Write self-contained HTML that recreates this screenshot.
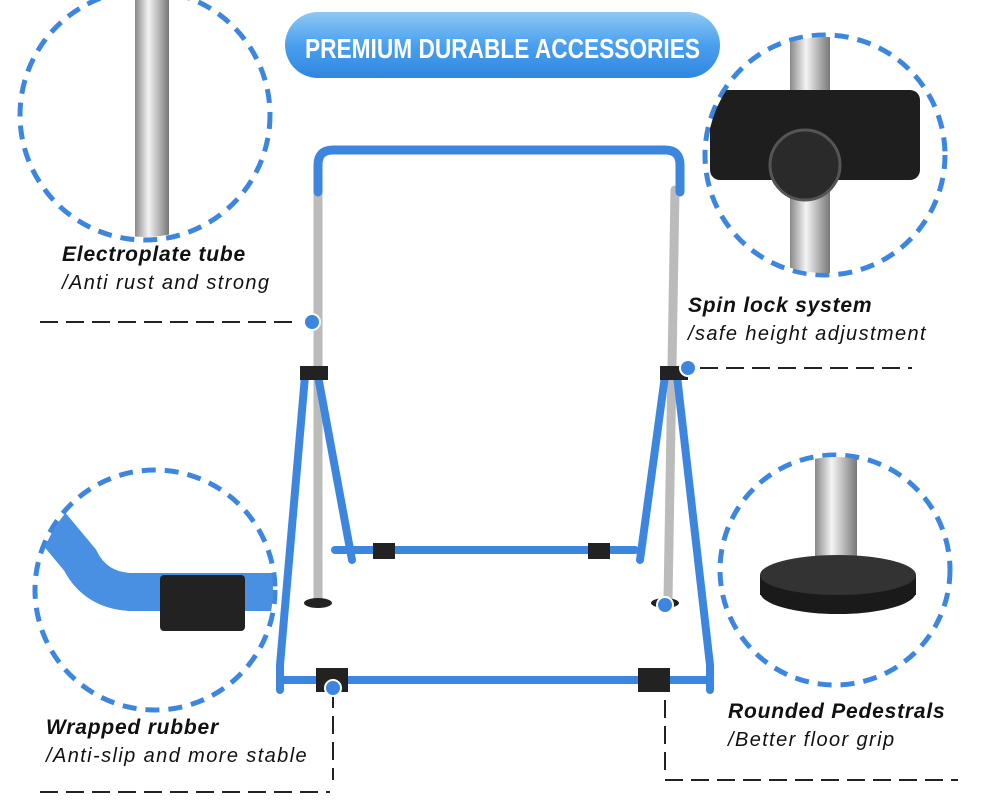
<!DOCTYPE html>
<html><head><meta charset="utf-8"><style>
body{margin:0;background:#fff;width:1000px;height:800px;overflow:hidden;font-family:"Liberation Sans",sans-serif}
.t{position:absolute;font-style:italic;color:#111;font-size:20px;letter-spacing:1.4px;white-space:nowrap}
.b{font-weight:bold;font-size:21px;letter-spacing:0.8px}
</style></head><body>
<svg width="1000" height="800" style="position:absolute;left:0;top:0">
<defs>
<linearGradient id="pill" x1="0" y1="0" x2="0" y2="1"><stop offset="0" stop-color="#8fc8f5"/><stop offset="0.5" stop-color="#4aa0ee"/><stop offset="1" stop-color="#2f86e0"/></linearGradient>
<linearGradient id="steel" x1="0" y1="0" x2="1" y2="0"><stop offset="0" stop-color="#888"/><stop offset="0.4" stop-color="#f4f4f4"/><stop offset="1" stop-color="#777"/></linearGradient>
<clipPath id="c1"><circle cx="145" cy="115" r="122"/></clipPath>
<clipPath id="c2"><circle cx="825" cy="155" r="118"/></clipPath>
<clipPath id="c3"><circle cx="155" cy="590" r="118"/></clipPath>
<clipPath id="c4"><circle cx="835" cy="570" r="113"/></clipPath>
</defs>
<rect x="285" y="12" width="435" height="66" rx="33" fill="url(#pill)"/>
<text x="305" y="58" textLength="395" lengthAdjust="spacingAndGlyphs" fill="#fff" font-weight="bold" font-size="28" font-family="Liberation Sans">PREMIUM DURABLE ACCESSORIES</text>
<g fill="none" stroke="#3d86e0" stroke-width="5" stroke-dasharray="14 9">
<circle cx="145" cy="115" r="125"/><circle cx="825" cy="155" r="120"/>
<circle cx="155" cy="590" r="120"/><circle cx="835" cy="570" r="115"/></g>
<rect x="135" y="0" width="34" height="240" fill="url(#steel)" clip-path="url(#c1)"/>
<g clip-path="url(#c2)"><rect x="790" y="30" width="40" height="250" fill="url(#steel)"/>
<rect x="710" y="90" width="210" height="90" rx="10" fill="#1e1e1e"/>
<circle cx="805" cy="165" r="35" fill="#2a2a2a" stroke="#555" stroke-width="3"/></g>
<g clip-path="url(#c3)"><path d="M30 500 L80 560 Q95 590 130 592 L290 592" stroke="#4a90e2" stroke-width="38" fill="none"/>
<rect x="160" y="575" width="85" height="56" rx="4" fill="#222"/></g>
<g clip-path="url(#c4)"><rect x="815" y="440" width="42" height="120" fill="url(#steel)"/>
<ellipse cx="838" cy="592" rx="78" ry="22" fill="#1a1a1a"/><rect x="760" y="575" width="156" height="20" fill="#1a1a1a"/><ellipse cx="838" cy="575" rx="78" ry="20" fill="#333"/></g>
<g stroke-linecap="round" fill="none">
<line x1="318" y1="190" x2="318" y2="600" stroke="#bbb" stroke-width="9"/>
<line x1="675" y1="190" x2="668" y2="600" stroke="#bbb" stroke-width="9"/>
<path d="M318 192 L318 165 Q318 150 333 150 L665 150 Q680 150 680 165 L680 192" stroke="#3d86e0" stroke-width="9"/>
<path d="M305 376 L280 665 L280 690 M318 376 L352 560" stroke="#3d86e0" stroke-width="8"/>
<path d="M677 376 L710 665 L710 690 M665 376 L640 560" stroke="#3d86e0" stroke-width="8"/>
<line x1="335" y1="550" x2="635" y2="550" stroke="#3d86e0" stroke-width="8"/>
<line x1="280" y1="680" x2="710" y2="680" stroke="#3d86e0" stroke-width="8"/>
</g>
<rect x="300" y="366" width="28" height="14" fill="#222"/><rect x="660" y="366" width="28" height="14" fill="#222"/>
<rect x="373" y="543" width="22" height="16" fill="#222"/><rect x="588" y="543" width="22" height="16" fill="#222"/>
<rect x="316" y="668" width="32" height="24" fill="#222"/><rect x="638" y="668" width="32" height="24" fill="#222"/>
<ellipse cx="318" cy="603" rx="14" ry="5" fill="#222"/><ellipse cx="665" cy="603" rx="14" ry="5" fill="#222"/>
<g stroke="#222" stroke-width="2" stroke-dasharray="18 8" fill="none">
<line x1="40" y1="322" x2="300" y2="322"/><line x1="700" y1="368" x2="912" y2="368"/>
<line x1="333" y1="690" x2="333" y2="780"/><line x1="40" y1="792" x2="330" y2="792"/>
<line x1="665" y1="700" x2="665" y2="775"/><line x1="665" y1="780" x2="958" y2="780"/></g>
<circle cx="312" cy="322" r="8" fill="#3d86e0" stroke="#fff" stroke-width="2"/>
<circle cx="688" cy="368" r="8" fill="#3d86e0" stroke="#fff" stroke-width="2"/>
<circle cx="333" cy="688" r="8" fill="#3d86e0" stroke="#fff" stroke-width="2"/>
<circle cx="665" cy="605" r="8" fill="#3d86e0" stroke="#fff" stroke-width="2"/>
</svg>
<div class="t b" style="left:62px;top:243px">Electroplate tube</div>
<div class="t" style="left:62px;top:272px">/Anti rust and strong</div>
<div class="t b" style="left:688px;top:294px">Spin lock system</div>
<div class="t" style="left:688px;top:323px">/safe height adjustment</div>
<div class="t b" style="left:46px;top:716px">Wrapped rubber</div>
<div class="t" style="left:46px;top:745px">/Anti-slip and more stable</div>
<div class="t b" style="left:728px;top:700px">Rounded Pedestrals</div>
<div class="t" style="left:728px;top:729px">/Better floor grip</div>
</body></html>
